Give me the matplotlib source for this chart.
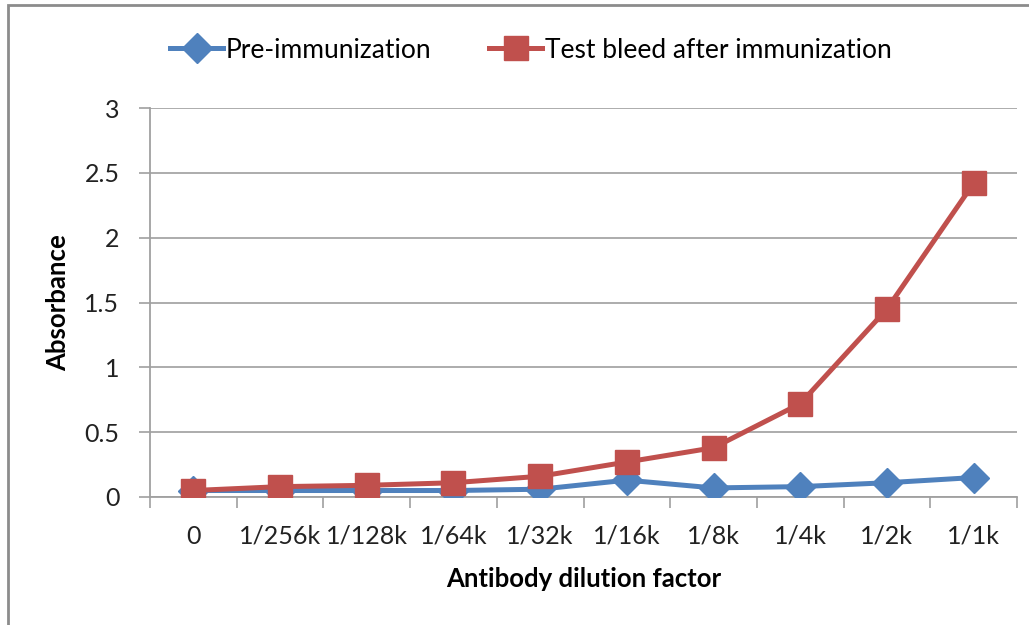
import matplotlib.pyplot as plt
from matplotlib.patches import Rectangle

# Antibody dilution factors (categories on the x axis)
dilutions = ["0", "1/256k", "1/128k", "1/64k", "1/32k", "1/16k", "1/8k", "1/4k", "1/2k", "1/1k"]

# Absorbance readings
pre_immunization = [0.05, 0.05, 0.05, 0.05, 0.06, 0.13, 0.07, 0.08, 0.11, 0.15]
test_bleed = [0.05, 0.08, 0.09, 0.11, 0.16, 0.27, 0.38, 0.72, 1.45, 2.42]

plt.rcParams['font.family'] = ['Lato', 'DejaVu Sans']

fig = plt.figure(figsize=(10.29, 6.25), dpi=100)
ax = fig.add_axes([150 / 1029, 1 - 497 / 625, 867 / 1029, 389 / 625])

# outer chart frame
fig.patches.append(Rectangle((8 / 1029, -0.1), 1.1, 1.1 - 5 / 625,
                             transform=fig.transFigure, fill=False,
                             edgecolor='#8c8c8c', linewidth=2))

x = list(range(len(dilutions)))
ax.plot(x, pre_immunization, color='#4F81BD', linewidth=3.6, marker='D',
        markersize=15, label="Pre-immunization", zorder=3)
ax.plot(x, test_bleed, color='#C0504D', linewidth=3.6, marker='s',
        markersize=17, label="Test bleed after immunization", zorder=4)

ax.set_xlim(-0.5, len(dilutions) - 0.5)
ax.set_ylim(0, 3)
ax.set_yticks([0, 0.5, 1, 1.5, 2, 2.5, 3])
ax.set_yticklabels(["0", "0.5", "1", "1.5", "2", "2.5", "3"])
ax.set_xticks(x)
ax.set_xticklabels(dilutions)
ax.set_xticks([i - 0.5 for i in range(len(dilutions) + 1)], minor=True)

ax.tick_params(axis='x', which='major', length=0, pad=20, labelsize=18, colors='#222222')
ax.tick_params(axis='x', which='minor', length=8, width=1.2, color='#a0a0a0')
ax.tick_params(axis='y', length=8, width=1.2, color='#a0a0a0', pad=14,
               labelsize=18, labelcolor='#222222')

ax.grid(axis='y', color='#a6a6a6', linewidth=1.3)
ax.set_axisbelow(True)
for side in ['top', 'right']:
    ax.spines[side].set_visible(False)
for side in ['left', 'bottom']:
    ax.spines[side].set_color('#a0a0a0')
    ax.spines[side].set_linewidth(1.3)

ax.set_xlabel("Antibody dilution factor", fontsize=18.5, fontweight='bold', labelpad=14)
ax.set_ylabel("Absorbance", fontsize=18.5, fontweight='bold', labelpad=10)

fig.legend(loc='center', bbox_to_anchor=(531 / 1029, 1 - 50 / 625), ncol=2,
           frameon=False, fontsize=19, handlelength=2.0, columnspacing=2.2,
           handletextpad=0.1, borderaxespad=0)

plt.savefig("out.png", dpi=100)
